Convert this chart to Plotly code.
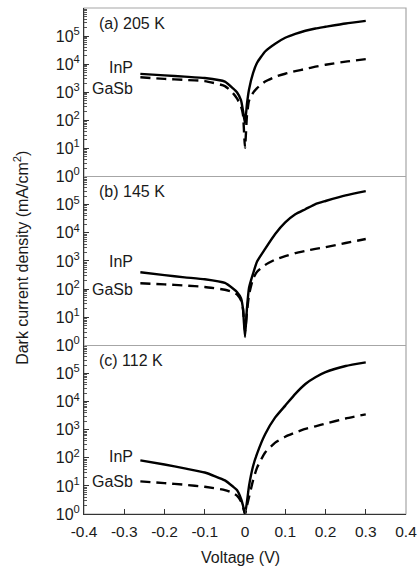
import plotly.graph_objects as go
from plotly.subplots import make_subplots

# Voltage (V)
voltage = [-0.26, -0.2, -0.15, -0.1, -0.05, -0.03, -0.02, -0.01, -0.005, 0.0,
           0.005, 0.01, 0.02, 0.03, 0.05, 0.075, 0.1, 0.125, 0.15, 0.175, 0.2, 0.25, 0.3]

# Dark current density (mA/cm^2)
inp_205 = [4500, 4000, 3600, 3200, 2400, 1380, 1000, 525, 224, 79,
           400, 1260, 4800, 11200, 28200, 53700, 87000, 120000, 155000, 186000, 214000, 282000, 347000]
gasb_205 = [3400, 3000, 2750, 2500, 1660, 930, 600, 316, 158, 10.5,
            158, 500, 955, 1410, 2400, 3550, 4570, 5620, 6760, 8130, 9550, 12300, 15100]

inp_145 = [400, 316, 263, 224, 166, 105, 79, 48, 20, 2.0,
           22, 112, 355, 955, 2700, 9100, 23400, 45700, 69000, 105000, 135000, 214000, 302000]
gasb_145 = [162, 148, 135, 120, 95, 79, 66, 40, 20, 3.2,
            16, 63, 234, 417, 724, 1120, 1480, 1910, 2290, 2690, 3090, 4370, 6030]

inp_112 = [81, 58, 42, 30, 15.8, 9.5, 7.1, 3.5, 2.0, 1.0,
           2.8, 10, 50, 141, 690, 2750, 7240, 19000, 42700, 74000, 112000, 186000, 251000]
gasb_112 = [14.5, 12.6, 11, 9.3, 7.1, 5.6, 4.5, 2.8, 1.8, 1.0,
            2.0, 4.0, 15.8, 44.7, 155, 347, 562, 794, 1070, 1320, 1660, 2510, 3550]

panel_labels = ["(a) 205 K", "(b) 145 K", "(c) 112 K"]
series_names = ["InP", "GaSb"]
x_ticks = [-0.4, -0.3, -0.2, -0.1, 0, 0.1, 0.2, 0.3, 0.4]
x_ticktext = ["-0.4", "-0.3", "-0.2", "-0.1", "0", "0.1", "0.2", "0.3", "0.4"]
y_ticks = [1, 10, 100, 1000, 10000, 100000]
y_ticktext = ["10<sup>%d</sup>" % i for i in range(6)]
y_minor = [m * 10 ** d for d in range(6) for m in range(2, 10)]

panels = [(inp_205, gasb_205), (inp_145, gasb_145), (inp_112, gasb_112)]

FONT = "Liberation Sans, Arial, sans-serif"
TXT = "#1a1a1a"

fig = make_subplots(rows=3, cols=1, shared_xaxes=True, vertical_spacing=0)

for i, (inp, gasb) in enumerate(panels):
    r = i + 1
    fig.add_trace(go.Scatter(x=voltage, y=inp, mode="lines", name=series_names[0],
                             line=dict(color="black", width=2.4, shape="spline", smoothing=0.5),
                             showlegend=False), row=r, col=1)
    fig.add_trace(go.Scatter(x=voltage, y=gasb, mode="lines", name=series_names[1],
                             line=dict(color="black", width=2.4, dash="10px,6px",
                                       shape="spline", smoothing=0.5),
                             showlegend=False), row=r, col=1)

# panel domains (paper coords)
domains = [[0.667, 1.0], [0.333, 0.667], [0.0, 0.333]]

for i in range(3):
    ya = "yaxis" if i == 0 else "yaxis%d" % (i + 1)
    xa = "xaxis" if i == 0 else "xaxis%d" % (i + 1)
    fig.layout[ya].update(
        type="log", range=[0, 6], domain=domains[i],
        tickmode="array", tickvals=y_ticks, ticktext=y_ticktext,
        ticks="inside", ticklen=5, tickcolor="#333", tickwidth=1,
        minor=dict(tickmode="array", tickvals=y_minor, ticks="inside",
                   ticklen=3, tickcolor="#555", tickwidth=1),
        showline=True, linecolor="#333", linewidth=1,
        showgrid=False, zeroline=False, automargin=False,
        tickfont=dict(family=FONT, size=16, color=TXT),
        ticklabelstandoff=0,
    )
    fig.layout[xa].update(
        range=[-0.4, 0.4], showgrid=False, zeroline=False, automargin=False,
        tickmode="array", tickvals=x_ticks, ticktext=x_ticktext,
        showticklabels=(i == 2),
        ticks="inside" if i == 2 else "", ticklen=5, tickcolor="#333",
        showline=(i == 2), linecolor="#333", linewidth=1,
        tickfont=dict(family=FONT, size=15.5, color=TXT),
        ticklabelstandoff=3, ticklabeloverflow="allow",
    )

shapes = [
    dict(type="rect", xref="paper", yref="paper", x0=0, x1=1, y0=0, y1=1,
         line=dict(color="#a6a6a6", width=1.2), layer="below"),
    dict(type="line", xref="paper", yref="paper", x0=0, x1=1, y0=0.333, y1=0.333,
         line=dict(color="#a6a6a6", width=1.2), layer="below"),
    dict(type="line", xref="paper", yref="paper", x0=0, x1=1, y0=0.667, y1=0.667,
         line=dict(color="#a6a6a6", width=1.2), layer="below"),
]

annotations = []
label_pos = [(0.645, 0.52), (0.497, 0.331), (0.341, 0.19)]
for i in range(3):
    xd = "x domain" if i == 0 else "x%d domain" % (i + 1)
    yd = "y domain" if i == 0 else "y%d domain" % (i + 1)
    annotations.append(dict(text=panel_labels[i], xref=xd, yref=yd, x=0.04, y=0.91,
                            xanchor="left", yanchor="middle", showarrow=False,
                            font=dict(family=FONT, size=16, color=TXT)))
    for name, yy in zip(series_names, label_pos[i]):
        annotations.append(dict(text=name, xref=xd, yref=yd, x=0.158, y=yy,
                                xanchor="right", yanchor="middle", showarrow=False,
                                font=dict(family=FONT, size=16, color=TXT)))

annotations.append(dict(text="Dark current density (mA/cm<sup>2</sup>)",
                        xref="paper", yref="paper", x=-0.196, y=0.506,
                        textangle=-90, xanchor="center", yanchor="middle",
                        showarrow=False, font=dict(family=FONT, size=16, color=TXT)))
annotations.append(dict(text="Voltage (V)", xref="paper", yref="paper",
                        x=0.486, y=-0.085, xanchor="center", yanchor="middle",
                        showarrow=False, font=dict(family=FONT, size=16, color=TXT)))

fig.update_layout(
    width=418, height=570,
    margin=dict(l=84, r=12, t=8, b=56, autoexpand=False),
    paper_bgcolor="white", plot_bgcolor="white",
    shapes=shapes, annotations=annotations,
    showlegend=False, hovermode=False,
)

# remove the default 8px page margin so the figure fills the window exactly
fig.write_html("out.html",
               config={"displayModeBar": False, "staticPlot": True},
               post_script="document.body.style.margin='0';document.body.style.overflow='hidden';")
